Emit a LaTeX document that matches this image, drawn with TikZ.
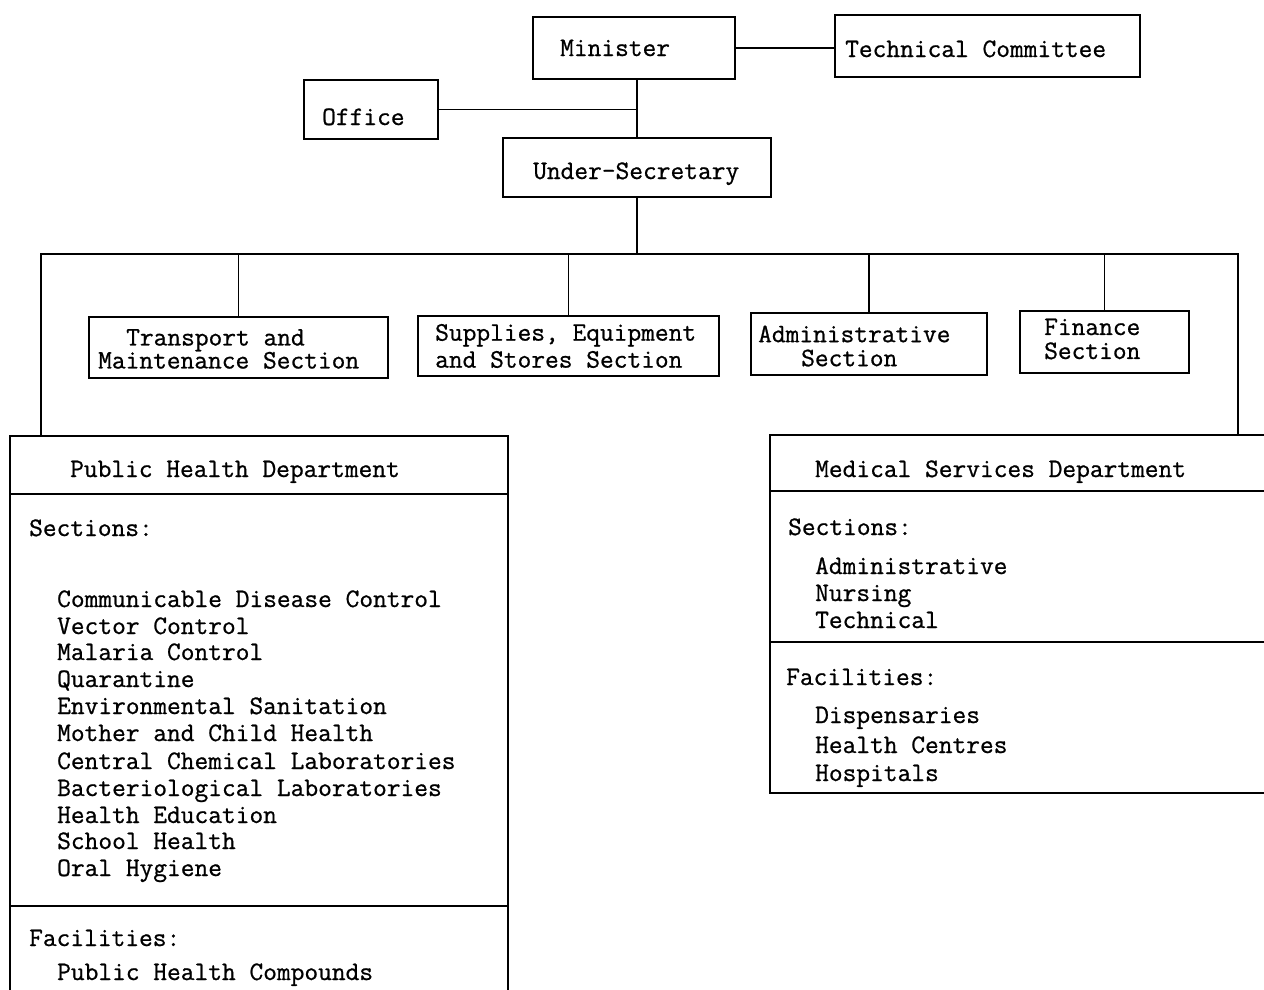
\documentclass[tikz,border=0pt]{standalone}
\usepackage{fontspec}
\newfontfamily\tw{Latin Modern Mono}[FakeBold=0.8]
\usetikzlibrary{fit}
\begin{document}
\begin{tikzpicture}[x=1pt,y=-1pt,
  box/.style={draw, line width=1.2pt, inner sep=0pt},
  ln/.style={line width=1.2pt},
  txt/.style={anchor=base west, inner sep=0pt, font={\tw\fontsize{26.67pt}{30pt}\selectfont}},
  two/.style={anchor=west, inner sep=0pt, align=left, font={\tw\fontsize{26.67pt}{#1}\selectfont}}]
\useasboundingbox[fill=white] (0,0) rectangle (1264,989);
\clip (0,0) rectangle (1264,989);
% top level boxes
\node[box, fit={(533,17) (735,79)}] (min) {};
\node[box, fit={(835,15) (1140,77)}] (tc) {};
\node[box, fit={(304,80) (438,139)}] (off) {};
\node[box, fit={(503,138) (771,197)}] (us) {};
% sections
\node[box, fit={(89,317) (388,378)}] (tr) {};
\node[box, fit={(418,316) (719,376)}] (sup) {};
\node[box, fit={(751,313) (987,375)}] (adm) {};
\node[box, fit={(1020,311) (1189,373)}] (fin) {};
% departments
\node[box, fit={(10,436) (508,1010)}] (phd) {};
\node[box, fit={(770,435) (1290,793)}] (msd) {};
% bus coordinates
\coordinate (busL) at (41,254);
\coordinate (busR) at (1238,254);
% connectors
\draw[ln] (min.east) -- (min.east -| tc.west);
\draw[ln] (us.north) -- (us.north |- min.south);
\draw[ln] (off.east) -- (off.east -| us.north);
\draw[ln] (us.south) -- (us.south |- busL);
\draw[ln] (phd.north -| busL) -- (busL) -- (busR) -- (busR |- msd.north);
\draw[ln] (tr.north) -- (tr.north |- busL);
\draw[ln] (sup.north) -- (sup.north |- busL);
\draw[ln] (adm.north) -- (adm.north |- busL);
\draw[ln] (fin.north) -- (fin.north |- busL);
% dividers
\draw[ln] (phd.west |- 0,494) -- (phd.east |- 0,494);
\draw[ln] (phd.west |- 0,906) -- (phd.east |- 0,906);
\draw[ln] (msd.west |- 0,491) -- (msd.east |- 0,491);
\draw[ln] (msd.west |- 0,642) -- (msd.east |- 0,642);
% texts
\node[txt] (tmin) at (560,56) {Minister};
\node[txt] (ttc) at (845,57) {Technical Committee};
\node[txt] (toff) at (322,125) {Office};
\node[txt] (tus) at (533,179) {Under-Secretary};
\node[two=23pt] (ttr) at (98,349) {\hspace*{28pt}Transport and\\Maintenance Section};
\node[two=27pt] (tsup) at (435,346) {Supplies, Equipment\\and Stores Section};
\node[two=24pt] (tadm) at (758,346) {Administrative\\\hspace*{43pt}Section};
\node[two=24pt] (tfin) at (1044,339) {Finance\\Section};
\node[txt] (tphd) at (70,477) {Public Health Department};
\node[txt] (tphs) at (29,536) {Sections:};
\node[txt] (p1) at (57,607) {Communicable Disease Control};
\node[txt] (p2) at (57,634) {Vector Control};
\node[txt] (p3) at (57,660) {Malaria Control};
\node[txt] (p4) at (57,687) {Quarantine};
\node[txt] (p5) at (57,714) {Environmental Sanitation};
\node[txt] (p6) at (57,741) {Mother and Child Health};
\node[txt] (p7) at (57,769) {Central Chemical Laboratories};
\node[txt] (p8) at (57,796) {Bacteriological Laboratories};
\node[txt] (p9) at (57,823) {Health Education};
\node[txt] (p10) at (57,849) {School Health};
\node[txt] (p11) at (57,876) {Oral Hygiene};
\node[txt] (tphf) at (29,946) {Facilities:};
\node[txt] (pf1) at (57,980) {Public Health Compounds};
\node[txt] (tmsd) at (815,477) {Medical Services Department};
\node[txt] (tmss) at (788,535) {Sections:};
\node[txt] (m1) at (815,574) {Administrative};
\node[txt] (m2) at (815,601) {Nursing};
\node[txt] (m3) at (815,628) {Technical};
\node[txt] (tmsf) at (786,685) {Facilities:};
\node[txt] (mf1) at (815,723) {Dispensaries};
\node[txt] (mf2) at (815,753) {Health Centres};
\node[txt] (mf3) at (815,781) {Hospitals};
\end{tikzpicture}
\end{document}
